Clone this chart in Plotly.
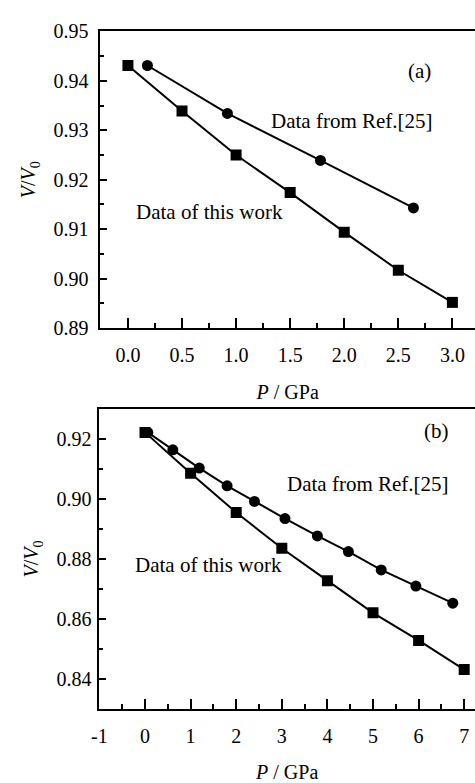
import plotly.graph_objects as go

# Panel (a)
a_work_p = [0.0, 0.5, 1.0, 1.5, 2.0, 2.5, 3.0]
a_work_v = [0.9431, 0.9339, 0.9250, 0.9174, 0.9094, 0.9017, 0.8952]
a_ref_p = [0.18, 0.92, 1.78, 2.64]
a_ref_v = [0.9431, 0.9334, 0.9239, 0.9143]

# Panel (b)
b_work_p = [0, 1, 2, 3, 4, 5, 6, 7]
b_work_v = [0.9222, 0.9086, 0.8955, 0.8836, 0.8728, 0.8621, 0.8529, 0.8432]
b_ref_p = [0.06, 0.61, 1.19, 1.80, 2.40, 3.07, 3.78, 4.46, 5.18, 5.94, 6.75]
b_ref_v = [0.9222, 0.9164, 0.9103, 0.9044, 0.8992, 0.8935, 0.8877, 0.8825, 0.8764, 0.8710, 0.8653]

b_xtick_vals = [-1, 0, 1, 2, 3, 4, 5, 6, 7]
b_xtick_text = ["-1", "0", "1", "2", "3", "4", "5", "6", "7"]

FONT = "Liberation Serif, Times New Roman, serif"
W, H = 475, 783

fig = go.Figure()
line = dict(color="black", width=2)
fig.add_trace(go.Scatter(x=a_work_p, y=a_work_v, mode="lines+markers", line=line,
                         marker=dict(symbol="square", size=11, color="black"),
                         xaxis="x", yaxis="y", showlegend=False))
fig.add_trace(go.Scatter(x=a_ref_p, y=a_ref_v, mode="lines+markers", line=line,
                         marker=dict(symbol="circle", size=11, color="black"),
                         xaxis="x", yaxis="y", showlegend=False))
fig.add_trace(go.Scatter(x=b_work_p, y=b_work_v, mode="lines+markers", line=line,
                         marker=dict(symbol="square", size=11, color="black"),
                         xaxis="x2", yaxis="y2", showlegend=False))
fig.add_trace(go.Scatter(x=b_ref_p, y=b_ref_v, mode="lines+markers", line=line,
                         marker=dict(symbol="circle", size=11, color="black"),
                         xaxis="x2", yaxis="y2", showlegend=False))

tickfont = dict(family=FONT, size=20, color="black")
titlefont = dict(family=FONT, size=20, color="black")
common = dict(showline=True, linecolor="black", linewidth=2, ticks="inside",
              tickcolor="black", tickwidth=2, showgrid=False, zeroline=False,
              tickfont=tickfont)

fig.update_layout(
    width=W, height=H,
    margin=dict(l=0, r=0, t=0, b=0),
    plot_bgcolor="white", paper_bgcolor="white",
    font=dict(family=FONT, size=20, color="black"),
    xaxis=dict(domain=[94 / W, 1], anchor="y", range=[-0.2545, 3.209],
               dtick=0.5, tick0=0, tickformat=".1f", ticklen=10, mirror=True,
               ticklabelstandoff=8,
               minor=dict(dtick=0.25, tick0=0, ticks="inside", ticklen=5, tickwidth=2, tickcolor="black"),
               title=dict(text="<i>P</i> / GPa", standoff=20, font=titlefont),
               **common),
    yaxis=dict(domain=[1 - 326.7 / H, 1 - 21 / H], anchor="x", range=[0.89, 0.95],
               dtick=0.01, tick0=0.89, tickformat=".2f", ticklen=7,
               ticklabelstandoff=6,
               minor=dict(dtick=0.005, tick0=0.89, ticks="inside", ticklen=4, tickwidth=2, tickcolor="black"),
               title=dict(text="<i>V</i>/<i>V</i><sub>0</sub>", standoff=12, font=titlefont),
               **common),
    xaxis2=dict(domain=[93 / W, 1], anchor="y2", range=[-1, 7.237],
                tickvals=b_xtick_vals, ticktext=b_xtick_text, ticklen=10, mirror=True,
                ticklabelstandoff=8,
                minor=dict(dtick=0.5, tick0=0, ticks="inside", ticklen=5, tickwidth=2, tickcolor="black"),
                title=dict(text="<i>P</i> / GPa", standoff=22, font=titlefont),
                **common),
    yaxis2=dict(domain=[1 - 719.3 / H, 1 - 410 / H], anchor="x2", range=[0.83, 0.93],
                dtick=0.02, tick0=0.84, tickformat=".2f", ticklen=7,
                ticklabelstandoff=2,
                minor=dict(dtick=0.01, tick0=0.83, ticks="inside", ticklen=4, tickwidth=2, tickcolor="black"),
                title=dict(text="<i>V</i>/<i>V</i><sub>0</sub>", standoff=12, font=titlefont),
                **common),
)

ann_font = dict(family=FONT, size=21, color="black")
anns = [
    ("x", "y", 2.70, 0.9420, "(a)"),
    ("x", "y", 2.07, 0.9318, "Data from Ref.[25]"),
    ("x", "y", 0.755, 0.9135, "Data of this work"),
    ("x2", "y2", 6.40, 0.9225, "(b)"),
    ("x2", "y2", 4.89, 0.9050, "Data from Ref.[25]"),
    ("x2", "y2", 1.40, 0.8779, "Data of this work"),
]
for xr, yr, x, y, t in anns:
    fig.add_annotation(xref=xr, yref=yr, x=x, y=y, text=t, showarrow=False, font=ann_font)

fig.write_html("out.html")
